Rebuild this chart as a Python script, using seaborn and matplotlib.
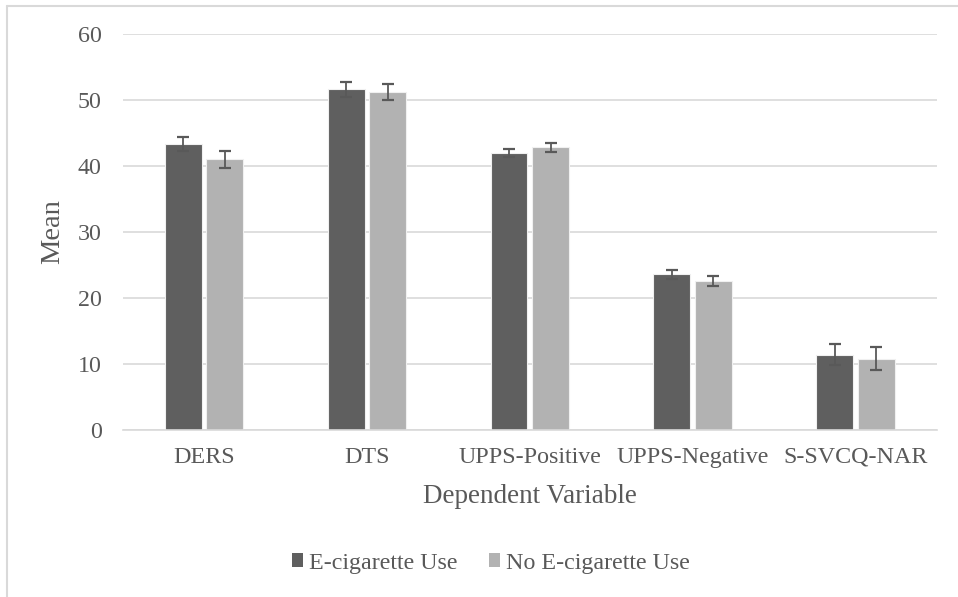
"""Mean scores by e-cigarette use, grouped bar chart."""

import matplotlib
matplotlib.use("Agg")
import matplotlib.pyplot as plt
from matplotlib.lines import Line2D
import numpy as np
import pandas as pd
import seaborn as sns

# data
variables = ["DERS", "DTS", "UPPS-Positive", "UPPS-Negative", "S-SVCQ-NAR"]
groups = ["E-cigarette Use", "No E-cigarette Use"]
means_ecig = [43.3, 51.6, 41.9, 23.6, 11.4]
means_none = [41.0, 51.2, 42.8, 22.5, 10.8]
err_ecig = [1.1, 1.2, 0.6, 0.7, 1.6]
err_none = [1.25, 1.25, 0.65, 0.75, 1.75]
yticks = [0, 10, 20, 30, 40, 50, 60]

colors = ["#5f5f5f", "#b2b2b2"]
text_color = "#595959"
grid_color = "#d9d9d9"

df = pd.DataFrame({
    "Dependent Variable": variables * 2,
    "Mean": means_ecig + means_none,
    "Group": [groups[0]] * len(variables) + [groups[1]] * len(variables),
})
errs = [err_ecig, err_none]

sns.set_style("white")
plt.rcParams["font.family"] = ["Liberation Serif", "DejaVu Serif"]

fig = plt.figure(figsize=(9.58, 5.97), dpi=100)
ax = fig.add_axes([0.128, 0.280, 0.850, 0.663])

sns.barplot(data=df, x="Dependent Variable", y="Mean", hue="Group",
            palette=colors, width=0.51, gap=0.11, errorbar=None,
            edgecolor="#f0f0f0", linewidth=0.8, saturation=1,
            legend=False, ax=ax, zorder=2)

# error bars on top of the bars seaborn drew
for container, err in zip(ax.containers, errs):
    xs = [p.get_x() + p.get_width() / 2 for p in container.patches]
    ys = [p.get_height() for p in container.patches]
    ax.errorbar(xs, ys, yerr=err, fmt="none", ecolor="#595959",
                elinewidth=1.3, capsize=4.3, capthick=1.6, zorder=3)

ax.set_ylim(0, 60)
ax.set_yticks(yticks)
ax.set_xlim(-0.5, len(variables) - 0.5)
ax.yaxis.grid(True, color=grid_color, linewidth=1.2, zorder=0)
ax.set_axisbelow(True)
for side in ["left", "right", "top"]:
    ax.spines[side].set_visible(False)
ax.spines["bottom"].set_color(grid_color)
ax.spines["bottom"].set_linewidth(1.2)
ax.tick_params(axis="both", length=0, labelsize=17.3, labelcolor=text_color)
ax.tick_params(axis="y", pad=15)
ax.tick_params(axis="x", pad=12)
ax.set_ylabel("Mean", fontsize=20.5, color=text_color, labelpad=9)
ax.set_xlabel("Dependent Variable", fontsize=19.5, color=text_color, labelpad=12)

handles = [plt.Rectangle((0, 0), 1, 1, facecolor=c, edgecolor="none") for c in colors]
leg = fig.legend(handles, groups, loc="center", bbox_to_anchor=(0.5125, 1 - 563 / 597),
                 ncol=2, frameon=False, fontsize=17.3, handlelength=0.47,
                 handleheight=0.47, handletextpad=0.25, columnspacing=1.3)
for t in leg.get_texts():
    t.set_color(text_color)

# light frame on the left and top of the chart area
fig.add_artist(Line2D([7 / 958, 7 / 958], [0, 1 - 6 / 597], transform=fig.transFigure,
                      color=grid_color, linewidth=1.5))
fig.add_artist(Line2D([7 / 958, 1], [1 - 6 / 597, 1 - 6 / 597], transform=fig.transFigure,
                      color=grid_color, linewidth=1.5))

fig.savefig("out.png", dpi=100)
